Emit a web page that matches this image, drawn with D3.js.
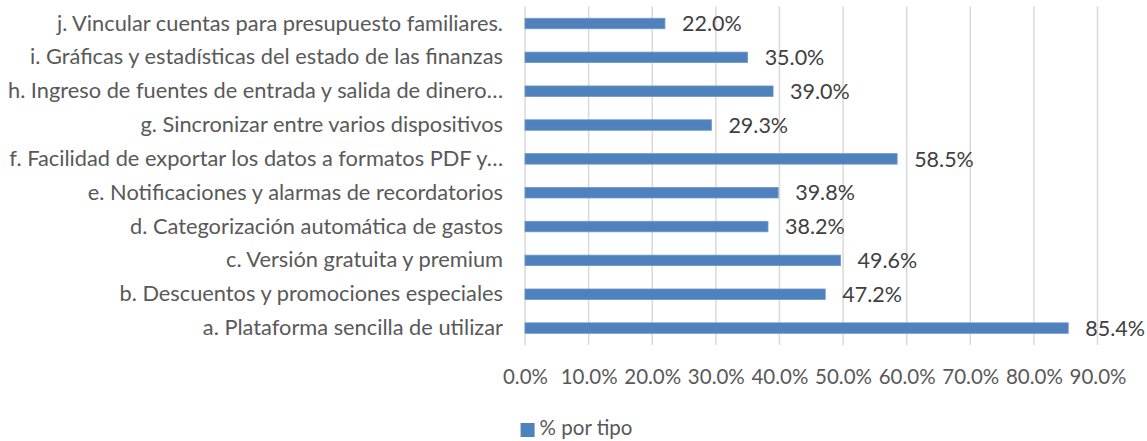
<!DOCTYPE html>
<html>
<head>
<meta charset="utf-8">
<script src="https://cdn.jsdelivr.net/npm/d3@7"></script>
<style>
  html, body { margin: 0; padding: 0; background: #fff; }
  svg { display: block; font-family: Lato, "Open Sans", sans-serif; }
</style>
</head>
<body>
<svg id="chart" width="1147" height="441"></svg>
<script>
// Feature categories, top to bottom
const categories = [
  "j. Vincular cuentas para presupuesto familiares.",
  "i. Gráficas y estadísticas del estado de las finanzas",
  "h. Ingreso de fuentes de entrada y salida de dinero…",
  "g. Sincronizar entre varios dispositivos",
  "f. Facilidad de exportar los datos a formatos PDF y…",
  "e. Notificaciones y alarmas de recordatorios",
  "d. Categorización automática de gastos",
  "c. Versión gratuita y premium",
  "b. Descuentos y promociones especiales",
  "a. Plataforma sencilla de utilizar"
];
// Share of respondents per feature (%)
const values = [22.0, 35.0, 39.0, 29.3, 58.5, 39.8, 38.2, 49.6, 47.2, 85.4];
const tickValues = [0, 10, 20, 30, 40, 50, 60, 70, 80, 90];
const seriesName = "% por tipo";

const W = 1147;
const svg = d3.select("#chart");
const barColor = "#4F81BD";
const pct = d => d3.format(".1f")(d) + "%";

const x = d3.scaleLinear().domain([0, 90]).range([525, 1097.5]);
const y = d3.scaleBand().domain(categories).range([6.6, 345]).paddingInner(0.69).paddingOuter(0.345);

// Vertical gridlines
svg.append("g")
  .selectAll("line")
  .data(tickValues)
  .join("line")
  .attr("x1", d => x(d)).attr("x2", d => x(d))
  .attr("y1", 6.6).attr("y2", 345)
  .attr("stroke", "#D9D9D9")
  .attr("stroke-width", 1.5);

// X axis tick labels
const xAxis = d3.axisBottom(x).tickValues(tickValues).tickSize(0).tickPadding(0).tickFormat(pct);
const gx = svg.append("g").attr("transform", "translate(0,369)").call(xAxis);
gx.select(".domain").remove();
gx.selectAll("text")
  .attr("fill", "#595959")
  .style("font-size", "20.5px")
  .style("font-family", "Lato, sans-serif");

// Category axis labels
const yAxis = d3.axisLeft(y).tickSize(0).tickPadding(22);
const gy = svg.append("g").attr("transform", `translate(${x(0)},0)`).call(yAxis);
gy.select(".domain").remove();
gy.selectAll("text")
  .attr("fill", "#595959")
  .style("font-size", "21.8px")
  .style("font-family", "Lato, sans-serif");

// Bars
svg.append("g")
  .selectAll("rect")
  .data(values)
  .join("rect")
  .attr("x", x(0))
  .attr("y", (d, i) => y(categories[i]))
  .attr("width", d => x(d) - x(0))
  .attr("height", y.bandwidth())
  .attr("fill", barColor)
  .attr("stroke", "#6F97CA")
  .attr("stroke-width", 0.8);

// Value labels
svg.append("g")
  .selectAll("text")
  .data(values)
  .join("text")
  .attr("x", d => x(d) + 17)
  .attr("y", (d, i) => y(categories[i]) + y.bandwidth() / 2)
  .attr("dy", "0.36em")
  .attr("fill", "#404040")
  .style("font-size", "21.5px")
  .text(pct);

// Legend, centred under the chart
const lg = svg.append("g");
lg.append("rect").attr("width", 14).attr("height", 14).attr("y", 423).attr("fill", barColor);
const lt = lg.append("text").attr("x", 19).attr("y", 435)
  .attr("fill", "#595959").style("font-size", "20.5px").text(seriesName);
const lw = 19 + lt.node().getComputedTextLength();
lg.attr("transform", `translate(${(W - lw) / 2 + 3},0)`);
</script>
</body>
</html>
